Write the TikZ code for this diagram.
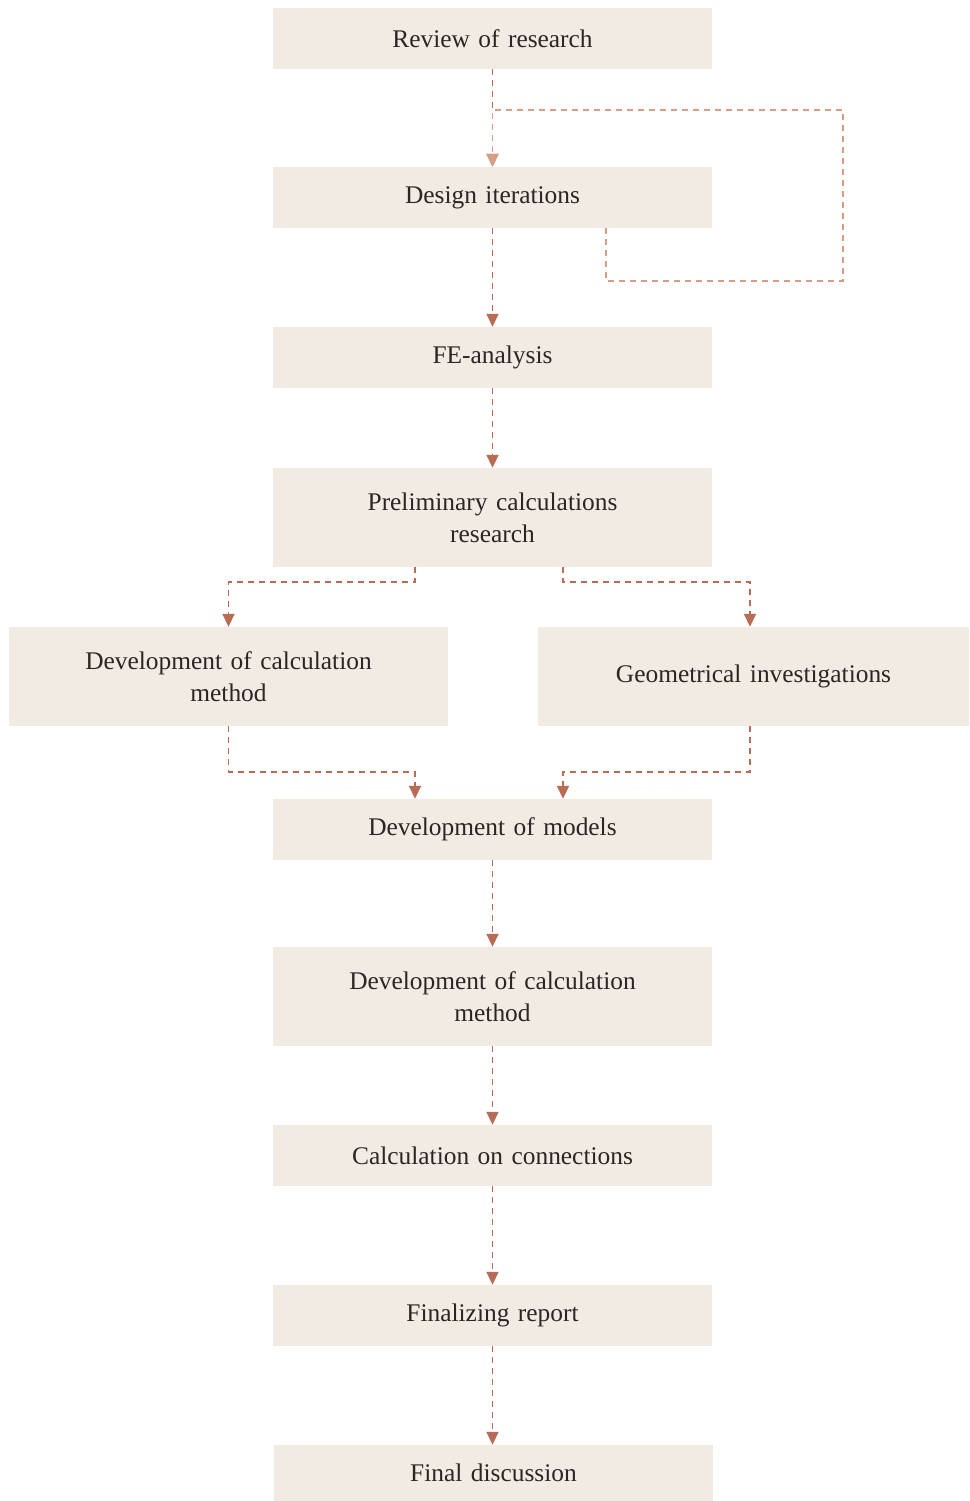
\documentclass[tikz,border=0pt]{standalone}
\usepackage{fontspec}
\setmainfont{Liberation Serif}
\usetikzlibrary{arrows.meta}
\definecolor{boxfill}{HTML}{F2EBE4}
\definecolor{linec}{HTML}{B86B55}
\definecolor{loopc}{HTML}{D99C84}
\definecolor{txt}{HTML}{2A2626}
\begin{document}
\begin{tikzpicture}[x=1bp,y=-1bp,
  box/.style={fill=boxfill, draw=none, inner sep=0pt, minimum width=439bp, minimum height=61bp, text width=420bp, align=center, text=txt, font=\fontsize{25.5}{32}\selectfont},
  tall/.style={box, minimum height=99bp},
  conn/.style={draw=linec, line width=1.8bp, dash pattern=on 6bp off 5bp, -{Triangle[width=12bp,length=13bp]}},
  loopconn/.style={conn, draw=loopc, -{Triangle[width=12bp,length=13bp,fill=loopc]}}
]
\useasboundingbox (0,0) rectangle (969,1501);
\node[box] (review) at (492.5,38.5) {Review of research};
\node[box] (design) at (492.5,197.5) {Design iterations};
\node[box] (fe) at (492.5,357.5) {FE-analysis};
\node[tall] (prelim) at (492.5,517.5) {Preliminary calculations\\research};
\node[tall] (devl) at (228.5,676.5) {Development of calculation\\method};
\node[tall, minimum width=431bp] (geo) at (753.5,676.5) {Geometrical investigations};
\node[box] (models) at (492.5,829.5) {Development of models};
\node[tall] (devc) at (492.5,996.5) {Development of calculation\\method};
\node[box] (conns) at (492.5,1155.5) {Calculation on connections};
\node[box] (final) at (492.5,1315.5) {Finalizing report};
\node[box, minimum height=56bp] (disc) at (493.5,1473) {Final discussion};

\coordinate (lr) at (843,281);
\coordinate (ur) at (843,110);

\draw[conn] (review) -- (design);
\draw[loopconn] ([xshift=113.5bp]design.south) |- (lr) -- (ur) -| (design.north);
\draw[conn] (design) -- (fe);
\draw[conn] (fe) -- (prelim);
\draw[conn] ([xshift=-77.5bp]prelim.south) -- ++(0,15) -| (devl.north);
\draw[conn] ([xshift=70.5bp]prelim.south) -- ++(0,15) -| ([xshift=-3.5bp]geo.north);
\draw[conn] (devl.south) -- ++(0,46) -| ([xshift=-77.5bp]models.north);
\draw[conn] ([xshift=-3.5bp]geo.south) -- ++(0,46) -| ([xshift=70.5bp]models.north);
\draw[conn] (models) -- (devc);
\draw[conn] (devc) -- (conns);
\draw[conn] (conns) -- (final);
\draw[conn] (final) -- ([xshift=-1bp]disc.north);
\end{tikzpicture}
\end{document}
